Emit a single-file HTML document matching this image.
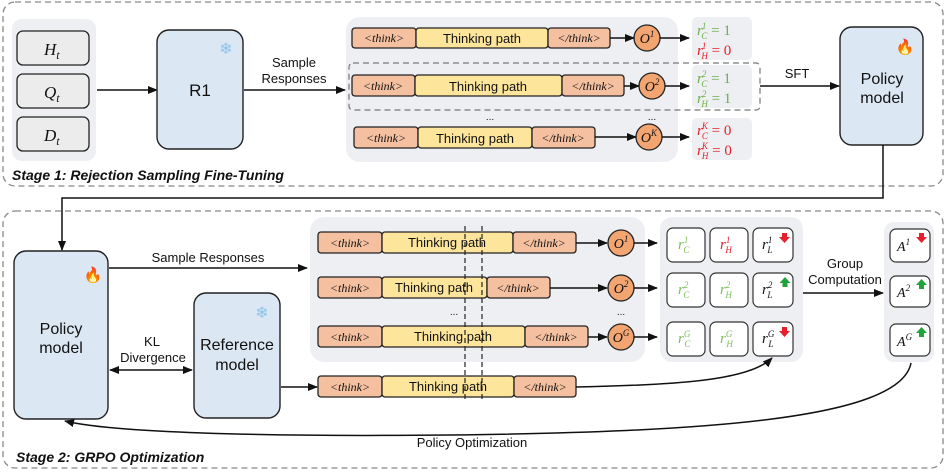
<!DOCTYPE html>
<html><head><meta charset="utf-8"><style>
body{margin:0;background:#fff}
svg{display:block}
text{font-family:"Liberation Sans",sans-serif;fill:#111}
.m{font-family:"Liberation Serif",serif;font-style:italic}
.tk{font-family:"Liberation Serif",serif;font-style:italic;font-size:12px}
</style></head><body>
<svg width="947" height="473" viewBox="0 0 947 473" xmlns="http://www.w3.org/2000/svg">
<defs>
<marker id="a" markerWidth="10" markerHeight="10" refX="9" refY="5" orient="auto" markerUnits="userSpaceOnUse"><path d="M0,1 L10,5 L0,9 z" fill="#111"/></marker>
<marker id="s" markerWidth="10" markerHeight="10" refX="1" refY="5" orient="auto" markerUnits="userSpaceOnUse"><path d="M10,1 L0,5 L10,9 z" fill="#111"/></marker>
</defs>
<!-- stage boxes -->
<rect x="3" y="2" width="940" height="184" rx="12" fill="none" stroke="#888" stroke-dasharray="6,4" stroke-width="1.3"/>
<rect x="3" y="211" width="940" height="257" rx="12" fill="none" stroke="#888" stroke-dasharray="6,4" stroke-width="1.3"/>
<text x="12" y="180" font-size="14" font-weight="bold" font-style="italic">Stage 1: Rejection Sampling Fine-Tuning</text>
<text x="16" y="462" font-size="14" font-weight="bold" font-style="italic">Stage 2: GRPO Optimization</text>

<!-- stage1 inputs -->
<rect x="12" y="19" width="84" height="142" rx="10" fill="#eeeff2"/>
<g fill="#ececec" stroke="#222" stroke-width="1.3">
<rect x="17" y="31" width="72" height="34" rx="6"/><rect x="17" y="74" width="72" height="34" rx="6"/><rect x="17" y="117" width="72" height="34" rx="6"/></g>
<text class="m" x="44" y="55" font-size="17">H<tspan font-size="12" dy="4">t</tspan></text>
<text class="m" x="44" y="98" font-size="17">Q<tspan font-size="12" dy="4">t</tspan></text>
<text class="m" x="44" y="141" font-size="17">D<tspan font-size="12" dy="4">t</tspan></text>
<line x1="97" y1="90" x2="157" y2="90" stroke="#111" stroke-width="1.5" marker-end="url(#a)"/>
<rect x="157" y="30" width="86" height="119" rx="12" fill="#dbe7f3" stroke="#222" stroke-width="1.4"/>
<text x="200" y="96" font-size="17" text-anchor="middle">R1</text>
<text x="226" y="54" font-size="16" text-anchor="middle" fill="#8ec3ea" style="fill:#8ec3ea">❄</text>
<line x1="244" y1="90" x2="345" y2="90" stroke="#111" stroke-width="1.5" marker-end="url(#a)"/>
<text x="294" y="67" font-size="13" text-anchor="middle">Sample</text>
<text x="294" y="83" font-size="13" text-anchor="middle">Responses</text>

<rect x="346" y="17" width="332" height="145" rx="14" fill="#eeeff2"/>
<rect x="349" y="63" width="411" height="47" rx="4" fill="none" stroke="#777" stroke-dasharray="6,4" stroke-width="1.2"/>
<g stroke="#222" stroke-width="1.3">
<rect x="352" y="28" width="64" height="20" rx="3" fill="#f4c0a0"/><rect x="416" y="28" width="132" height="20" rx="3" fill="#fde59b"/><rect x="548" y="28" width="62" height="20" rx="3" fill="#f4c0a0"/>
<rect x="352" y="75" width="63" height="21" rx="3" fill="#f4c0a0"/><rect x="415" y="75" width="147" height="21" rx="3" fill="#fde59b"/><rect x="562" y="75" width="62" height="21" rx="3" fill="#f4c0a0"/>
<rect x="354" y="127" width="64" height="21" rx="3" fill="#f4c0a0"/><rect x="418" y="127" width="114" height="21" rx="3" fill="#fde59b"/><rect x="532" y="127" width="63" height="21" rx="3" fill="#f4c0a0"/>
<circle cx="647" cy="38" r="13" fill="#f2a571"/><circle cx="652" cy="86" r="13" fill="#f2a571"/><circle cx="649" cy="137" r="13" fill="#f2a571"/>
</g>
<g class="tk" text-anchor="middle">
<text class="tk" x="384" y="42">&lt;think&gt;</text><text class="tk" x="579" y="42">&lt;/think&gt;</text>
<text class="tk" x="383" y="90">&lt;think&gt;</text><text class="tk" x="593" y="90">&lt;/think&gt;</text>
<text class="tk" x="386" y="142">&lt;think&gt;</text><text class="tk" x="563" y="142">&lt;/think&gt;</text>
</g>
<g font-size="13" text-anchor="middle">
<text x="482" y="43">Thinking path</text><text x="488" y="91">Thinking path</text><text x="475" y="143">Thinking path</text></g>
<g class="m" font-size="14" text-anchor="middle">
<text class="m" x="647" y="43">O<tspan font-size="9" dy="-6">1</tspan></text>
<text class="m" x="652" y="91">O<tspan font-size="9" dy="-6">2</tspan></text>
<text class="m" x="649" y="142">O<tspan font-size="9" dy="-6">K</tspan></text></g>
<text x="490" y="120" font-size="10" text-anchor="middle">...</text><text x="652" y="120" font-size="10" text-anchor="middle">...</text>
<g stroke="#111" stroke-width="1.5">
<line x1="610" y1="38" x2="634" y2="38" marker-end="url(#a)"/><line x1="660" y1="38" x2="689" y2="38" marker-end="url(#a)"/>
<line x1="624" y1="86" x2="639" y2="86" marker-end="url(#a)"/><line x1="665" y1="86" x2="689" y2="86" marker-end="url(#a)"/>
<line x1="595" y1="137" x2="636" y2="137" marker-end="url(#a)"/><line x1="662" y1="137" x2="689" y2="137" marker-end="url(#a)"/>
</g>
<rect x="692" y="17" width="60" height="43" rx="5" fill="#eeeff2"/>
<rect x="692" y="65" width="60" height="43" rx="5" fill="#eeeff2"/>
<rect x="692" y="118" width="60" height="42" rx="5" fill="#eeeff2"/>
<g font-size="15">
<text class="m" x="697" y="35" style="fill:#6ab04c">r<tspan font-size="9" dx="-1" dy="-6">1</tspan><tspan font-size="9" dx="-5" dy="10">C</tspan><tspan dy="-4" font-style="normal"> = 1</tspan></text>
<text class="m" x="697" y="55" style="fill:#e5202a">r<tspan font-size="9" dx="-1" dy="-6">1</tspan><tspan font-size="9" dx="-5" dy="10">H</tspan><tspan dy="-4" font-style="normal"> = 0</tspan></text>
<text class="m" x="697" y="83" style="fill:#6ab04c">r<tspan font-size="9" dx="-1" dy="-6">2</tspan><tspan font-size="9" dx="-5" dy="10">C</tspan><tspan dy="-4" font-style="normal"> = 1</tspan></text>
<text class="m" x="697" y="103" style="fill:#6ab04c">r<tspan font-size="9" dx="-1" dy="-6">2</tspan><tspan font-size="9" dx="-5" dy="10">H</tspan><tspan dy="-4" font-style="normal"> = 1</tspan></text>
<text class="m" x="697" y="135" style="fill:#e5202a">r<tspan font-size="9" dx="-1" dy="-6">K</tspan><tspan font-size="9" dx="-6" dy="10">C</tspan><tspan dy="-4" font-style="normal"> = 0</tspan></text>
<text class="m" x="697" y="155" style="fill:#e5202a">r<tspan font-size="9" dx="-1" dy="-6">K</tspan><tspan font-size="9" dx="-6" dy="10">H</tspan><tspan dy="-4" font-style="normal"> = 0</tspan></text>
</g>
<line x1="760" y1="86" x2="839" y2="86" stroke="#111" stroke-width="1.5" marker-end="url(#a)"/>
<text x="797" y="78" font-size="13" text-anchor="middle">SFT</text>
<rect x="840" y="27" width="83" height="118" rx="12" fill="#dbe7f3" stroke="#222" stroke-width="1.4"/>
<text x="882" y="84" font-size="16" text-anchor="middle">Policy</text>
<text x="882" y="103" font-size="16" text-anchor="middle">model</text>
<text x="905" y="52" font-size="15" text-anchor="middle" style="fill:#f06a1f">🔥</text>
<polyline points="883,145 883,198 62,198 62,250" fill="none" stroke="#111" stroke-width="1.5" marker-end="url(#a)"/>

<!-- stage2 -->
<rect x="14" y="251" width="94" height="168" rx="12" fill="#dbe7f3" stroke="#222" stroke-width="1.4"/>
<text x="61" y="334" font-size="16" text-anchor="middle">Policy</text>
<text x="61" y="353" font-size="16" text-anchor="middle">model</text>
<text x="93" y="280" font-size="15" text-anchor="middle" style="fill:#f06a1f">🔥</text>
<line x1="109" y1="268" x2="307" y2="268" stroke="#111" stroke-width="1.5" marker-end="url(#a)"/>
<text x="208" y="262" font-size="13" text-anchor="middle">Sample Responses</text>
<rect x="194" y="293" width="86" height="125" rx="12" fill="#dbe7f3" stroke="#222" stroke-width="1.4"/>
<text x="237" y="350" font-size="16" text-anchor="middle">Reference</text>
<text x="237" y="370" font-size="16" text-anchor="middle">model</text>
<text x="262" y="318" font-size="16" text-anchor="middle" style="fill:#8ec3ea">❄</text>
<line x1="110" y1="370" x2="192" y2="370" stroke="#111" stroke-width="1.5" marker-end="url(#a)" marker-start="url(#s)"/>
<text x="152" y="346" font-size="13" text-anchor="middle">KL</text>
<text x="153" y="362" font-size="13" text-anchor="middle">Divergence</text>
<line x1="281" y1="387" x2="317" y2="387" stroke="#111" stroke-width="1.5" marker-end="url(#a)"/>

<rect x="310" y="217" width="335" height="145" rx="14" fill="#eeeff2"/>
<g stroke="#222" stroke-width="1.3">
<rect x="318" y="232" width="64" height="21" rx="3" fill="#f4c0a0"/><rect x="382" y="232" width="131" height="21" rx="3" fill="#fde59b"/><rect x="513" y="232" width="63" height="21" rx="3" fill="#f4c0a0"/>
<rect x="318" y="277" width="64" height="21" rx="3" fill="#f4c0a0"/><rect x="382" y="277" width="105" height="21" rx="3" fill="#fde59b"/><rect x="487" y="277" width="63" height="21" rx="3" fill="#f4c0a0"/>
<rect x="318" y="326" width="64" height="21" rx="3" fill="#f4c0a0"/><rect x="382" y="326" width="143" height="21" rx="3" fill="#fde59b"/><rect x="525" y="326" width="63" height="21" rx="3" fill="#f4c0a0"/>
<rect x="318" y="376" width="64" height="21" rx="3" fill="#f4c0a0"/><rect x="382" y="376" width="132" height="21" rx="3" fill="#fde59b"/><rect x="514" y="376" width="62" height="21" rx="3" fill="#f4c0a0"/>
<circle cx="621" cy="243" r="13" fill="#f2a571"/><circle cx="621" cy="288" r="13" fill="#f2a571"/><circle cx="621" cy="337" r="13" fill="#f2a571"/>
</g>
<g stroke="#222" stroke-width="1.2" stroke-dasharray="5,3"><line x1="465" y1="226" x2="465" y2="402"/><line x1="482" y1="226" x2="482" y2="402"/></g>
<text class="tk" x="350" y="247" text-anchor="middle">&lt;think&gt;</text><text class="tk" x="544" y="247" text-anchor="middle">&lt;/think&gt;</text>
<text class="tk" x="350" y="292" text-anchor="middle">&lt;think&gt;</text><text class="tk" x="518" y="292" text-anchor="middle">&lt;/think&gt;</text>
<text class="tk" x="350" y="341" text-anchor="middle">&lt;think&gt;</text><text class="tk" x="556" y="341" text-anchor="middle">&lt;/think&gt;</text>
<text class="tk" x="350" y="391" text-anchor="middle">&lt;think&gt;</text><text class="tk" x="545" y="391" text-anchor="middle">&lt;/think&gt;</text>
<g font-size="13" text-anchor="middle">
<text x="447" y="247">Thinking path</text><text x="434" y="292">Thinking path</text><text x="453" y="341">Thinking path</text><text x="448" y="391">Thinking path</text></g>
<g font-size="14" text-anchor="middle">
<text class="m" x="621" y="248">O<tspan font-size="9" dy="-6">1</tspan></text>
<text class="m" x="621" y="293">O<tspan font-size="9" dy="-6">2</tspan></text>
<text class="m" x="621" y="342">O<tspan font-size="9" dy="-6">G</tspan></text></g>
<g font-size="10" text-anchor="middle"><text x="454" y="315">...</text><text x="621" y="315">...</text>
<text x="686" y="316">...</text><text x="729" y="316">...</text><text x="773" y="316">...</text><text x="910" y="318">...</text></g>
<g stroke="#111" stroke-width="1.5">
<line x1="576" y1="243" x2="607" y2="243" marker-end="url(#a)"/><line x1="634" y1="243" x2="657" y2="243" marker-end="url(#a)"/>
<line x1="550" y1="288" x2="607" y2="288" marker-end="url(#a)"/><line x1="634" y1="288" x2="657" y2="288" marker-end="url(#a)"/>
<line x1="588" y1="337" x2="607" y2="337" marker-end="url(#a)"/><line x1="634" y1="337" x2="657" y2="337" marker-end="url(#a)"/>
</g>
<rect x="660" y="217" width="143" height="145" rx="12" fill="#eeeff2"/>
<g fill="#fff" stroke="#333" stroke-width="1.2">
<rect x="667" y="228" width="38" height="34" rx="6"/><rect x="710" y="228" width="38" height="34" rx="6"/><rect x="753" y="228" width="40" height="34" rx="6"/>
<rect x="667" y="273" width="38" height="34" rx="6"/><rect x="710" y="273" width="38" height="34" rx="6"/><rect x="753" y="273" width="40" height="34" rx="6"/>
<rect x="667" y="322" width="38" height="34" rx="6"/><rect x="710" y="322" width="38" height="34" rx="6"/><rect x="753" y="322" width="40" height="34" rx="6"/>
</g>
<g font-size="15">
<text class="m" x="678" y="249" style="fill:#7cbf5c">r<tspan font-size="9" dy="-6">1</tspan><tspan font-size="9" dx="-5" dy="10">C</tspan></text>
<text class="m" x="720" y="249" style="fill:#e5202a">r<tspan font-size="9" dy="-6">1</tspan><tspan font-size="9" dx="-5" dy="10">H</tspan></text>
<text class="m" x="762" y="249">r<tspan font-size="9" dy="-6">1</tspan><tspan font-size="9" dx="-5" dy="10">L</tspan></text>
<text class="m" x="678" y="294" style="fill:#7cbf5c">r<tspan font-size="9" dy="-6">2</tspan><tspan font-size="9" dx="-5" dy="10">C</tspan></text>
<text class="m" x="720" y="294" style="fill:#7cbf5c">r<tspan font-size="9" dy="-6">2</tspan><tspan font-size="9" dx="-5" dy="10">H</tspan></text>
<text class="m" x="762" y="294">r<tspan font-size="9" dy="-6">2</tspan><tspan font-size="9" dx="-5" dy="10">L</tspan></text>
<text class="m" x="678" y="343" style="fill:#7cbf5c">r<tspan font-size="9" dy="-6">G</tspan><tspan font-size="9" dx="-6" dy="10">C</tspan></text>
<text class="m" x="720" y="343" style="fill:#7cbf5c">r<tspan font-size="9" dy="-6">G</tspan><tspan font-size="9" dx="-6" dy="10">H</tspan></text>
<text class="m" x="762" y="343">r<tspan font-size="9" dy="-6">G</tspan><tspan font-size="9" dx="-6" dy="10">L</tspan></text>
</g>
<line x1="803" y1="293" x2="883" y2="293" stroke="#111" stroke-width="1.5" marker-end="url(#a)"/>
<text x="845" y="268" font-size="13" text-anchor="middle">Group</text>
<text x="845" y="284" font-size="13" text-anchor="middle">Computation</text>
<rect x="884" y="222" width="50" height="140" rx="10" fill="#eeeff2"/>
<g fill="#fff" stroke="#333" stroke-width="1.2">
<rect x="890" y="229" width="40" height="33" rx="6"/><rect x="890" y="276" width="40" height="31" rx="6"/><rect x="890" y="324" width="40" height="32" rx="6"/></g>
<g font-size="14"><text class="m" x="897" y="251">A<tspan font-size="9" dy="-6">1</tspan></text>
<text class="m" x="897" y="297">A<tspan font-size="9" dy="-6">2</tspan></text>
<text class="m" x="897" y="346">A<tspan font-size="9" dy="-6">G</tspan></text></g>
<!-- up/down arrows -->
<g>
<path d="M782,233 h5 v4 h3 l-5.5,6 l-5.5,-6 h3z" fill="#e5202a"/>
<path d="M785,277 l5.5,6 h-3 v4 h-5 v-4 h-3z" fill="#1fa33a"/>
<path d="M782,327 h5 v4 h3 l-5.5,6 l-5.5,-6 h3z" fill="#e5202a"/>
<path d="M919,233 h5 v4 h3 l-5.5,6 l-5.5,-6 h3z" fill="#e5202a"/>
<path d="M921.5,279 l5.5,6 h-3 v4 h-5 v-4 h-3z" fill="#1fa33a"/>
<path d="M921.5,327 l5.5,6 h-3 v4 h-5 v-4 h-3z" fill="#1fa33a"/>
</g>
<path d="M576,387 C680,385 750,380 772,358" fill="none" stroke="#111" stroke-width="1.5" marker-end="url(#a)"/>
<path d="M911,363 C900,420 700,432 450,435 C250,437 110,432 65,421" fill="none" stroke="#111" stroke-width="1.5" marker-end="url(#a)"/>
<text x="472" y="447" font-size="13" text-anchor="middle">Policy Optimization</text>
</svg>
</body></html>
